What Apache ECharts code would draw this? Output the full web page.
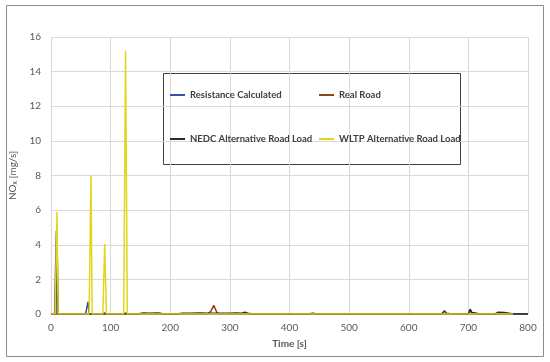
<!DOCTYPE html>
<html><head><meta charset="utf-8">
<script src="https://cdn.jsdelivr.net/npm/echarts@6/dist/echarts.min.js"></script>
<style>html,body{margin:0;padding:0;background:#fff}#c{width:550px;height:362px}</style>
</head><body><div id="c"></div>
<script>
const xTicks = [0,100,200,300,400,500,600,700,800];
const yTicks = [0,2,4,6,8,10,12,14,16];
const resTime = [0, 6, 9, 11, 58, 62, 64, 800];
const resVal  = [0, 0, 4.8, 0, 0, 0.7, 0, 0];
const realTime = [0, 262, 268, 273, 278, 282, 700, 703, 706, 800];
const realVal  = [0, 0, 0.15, 0.5, 0.1, 0, 0, 0.25, 0, 0];
const nedcTime = [0, 8, 10, 12, 60, 63, 66, 85, 90, 95, 120, 125, 130, 145, 155, 165, 180, 190, 212, 220, 235, 250, 262, 300, 310, 320, 325, 330, 340, 430, 440, 445, 655, 660, 663, 668, 700, 703, 706, 712, 718, 745, 750, 760, 768, 775, 800];
const nedcVal  = [0, 0, 4.4, 0, 0, 0.08, 0, 0, 0.05, 0, 0, 0.05, 0, 0, 0.06, 0.05, 0.06, 0, 0, 0.05, 0.04, 0.06, 0.05, 0.05, 0.06, 0.05, 0.1, 0.05, 0, 0, 0.04, 0, 0, 0.18, 0.05, 0.03, 0, 0.28, 0.08, 0.06, 0, 0, 0.1, 0.08, 0.05, 0, 0];
const wltpTime = [0, 7, 10, 12, 64, 67, 69, 87, 90, 93, 122, 125, 128, 775];
const wltpVal  = [0, 0, 5.9, 0, 0, 8.0, 0, 0, 4.05, 0, 0, 15.2, 0, 0];
const names = ['Resistance Calculated', 'Real Road', 'NEDC Alternative Road Load', 'WLTP Alternative Road Load'];
const colors = ['#3a50b0', '#8b4a1a', '#2b2b2b', '#e2d51c'];

const zip = (t, v) => t.map((x, i) => [x, v[i]]);
const chart = echarts.init(document.getElementById('c'), null, {renderer: 'canvas'});
const font = 'Lato, "Open Sans", sans-serif';
const legendText = {color: '#404040', fontSize: 9.5, fontWeight: 'bold', fontFamily: font};
chart.setOption({
  animation: false,
  textStyle: {fontFamily: font},
  grid: {left: 50, right: 22, top: 37, bottom: 48},
  xAxis: {
    type: 'value', min: 0, max: 800, interval: 100,
    name: 'Time [s]', nameLocation: 'middle', nameGap: 25,
    nameTextStyle: {color: '#595959', fontSize: 10, fontWeight: 'bold', fontFamily: font},
    axisLine: {show: false}, axisTick: {show: false},
    axisLabel: {color: '#595959', fontSize: 10, margin: 9, fontFamily: font},
    splitLine: {show: true, lineStyle: {color: '#d9d9d9', width: 1}}
  },
  yAxis: {
    type: 'value', min: 0, max: 16, interval: 2,
    name: '{a|NO}{b|x}{a| [mg/s]}', nameLocation: 'middle', nameGap: 26, nameRotate: 90,
    nameTextStyle: {rich: {
      a: {color: '#595959', fontSize: 10, fontFamily: font},
      b: {color: '#595959', fontSize: 7, fontFamily: font, padding: [4, 0, 0, 0]}
    }},
    axisLine: {show: false}, axisTick: {show: false},
    axisLabel: {color: '#595959', fontSize: 10, margin: 10, fontFamily: font},
    splitLine: {show: true, lineStyle: {color: '#d9d9d9', width: 1}}
  },
  legend: [
    {data: [names[0], names[2]], orient: 'vertical', left: 170, top: 90, itemGap: 34, padding: 0,
     icon: 'rect', itemWidth: 15, itemHeight: 2, itemStyle: {borderWidth: 0}, textStyle: legendText},
    {data: [names[1], names[3]], orient: 'vertical', left: 319, top: 90, itemGap: 34, padding: 0,
     icon: 'rect', itemWidth: 15, itemHeight: 2, itemStyle: {borderWidth: 0}, textStyle: legendText}
  ],
  graphic: [
    {type: 'rect', shape: {x: 6.5, y: 5.5, width: 537, height: 351}, style: {fill: 'none', stroke: '#8c8c8c', lineWidth: 1}, z: 100},
    {type: 'rect', shape: {x: 163.5, y: 73.5, width: 297, height: 91}, style: {fill: '#fff', stroke: '#404040', lineWidth: 1}, z: 0, zlevel: 0}
  ],
  series: [
    {name: names[0], type: 'line', data: zip(resTime, resVal), color: colors[0], showSymbol: false, symbol: 'none', lineStyle: {width: 1.5}, z: 2},
    {name: names[1], type: 'line', data: zip(realTime, realVal), color: colors[1], showSymbol: false, symbol: 'none', lineStyle: {width: 1.5}, z: 3},
    {name: names[2], type: 'line', data: zip(nedcTime, nedcVal), color: colors[2], showSymbol: false, symbol: 'none', lineStyle: {width: 1.5}, z: 4},
    {name: names[3], type: 'line', data: zip(wltpTime, wltpVal), color: colors[3], showSymbol: false, symbol: 'none', lineStyle: {width: 1.5}, z: 5}
  ]
});
</script></body></html>
